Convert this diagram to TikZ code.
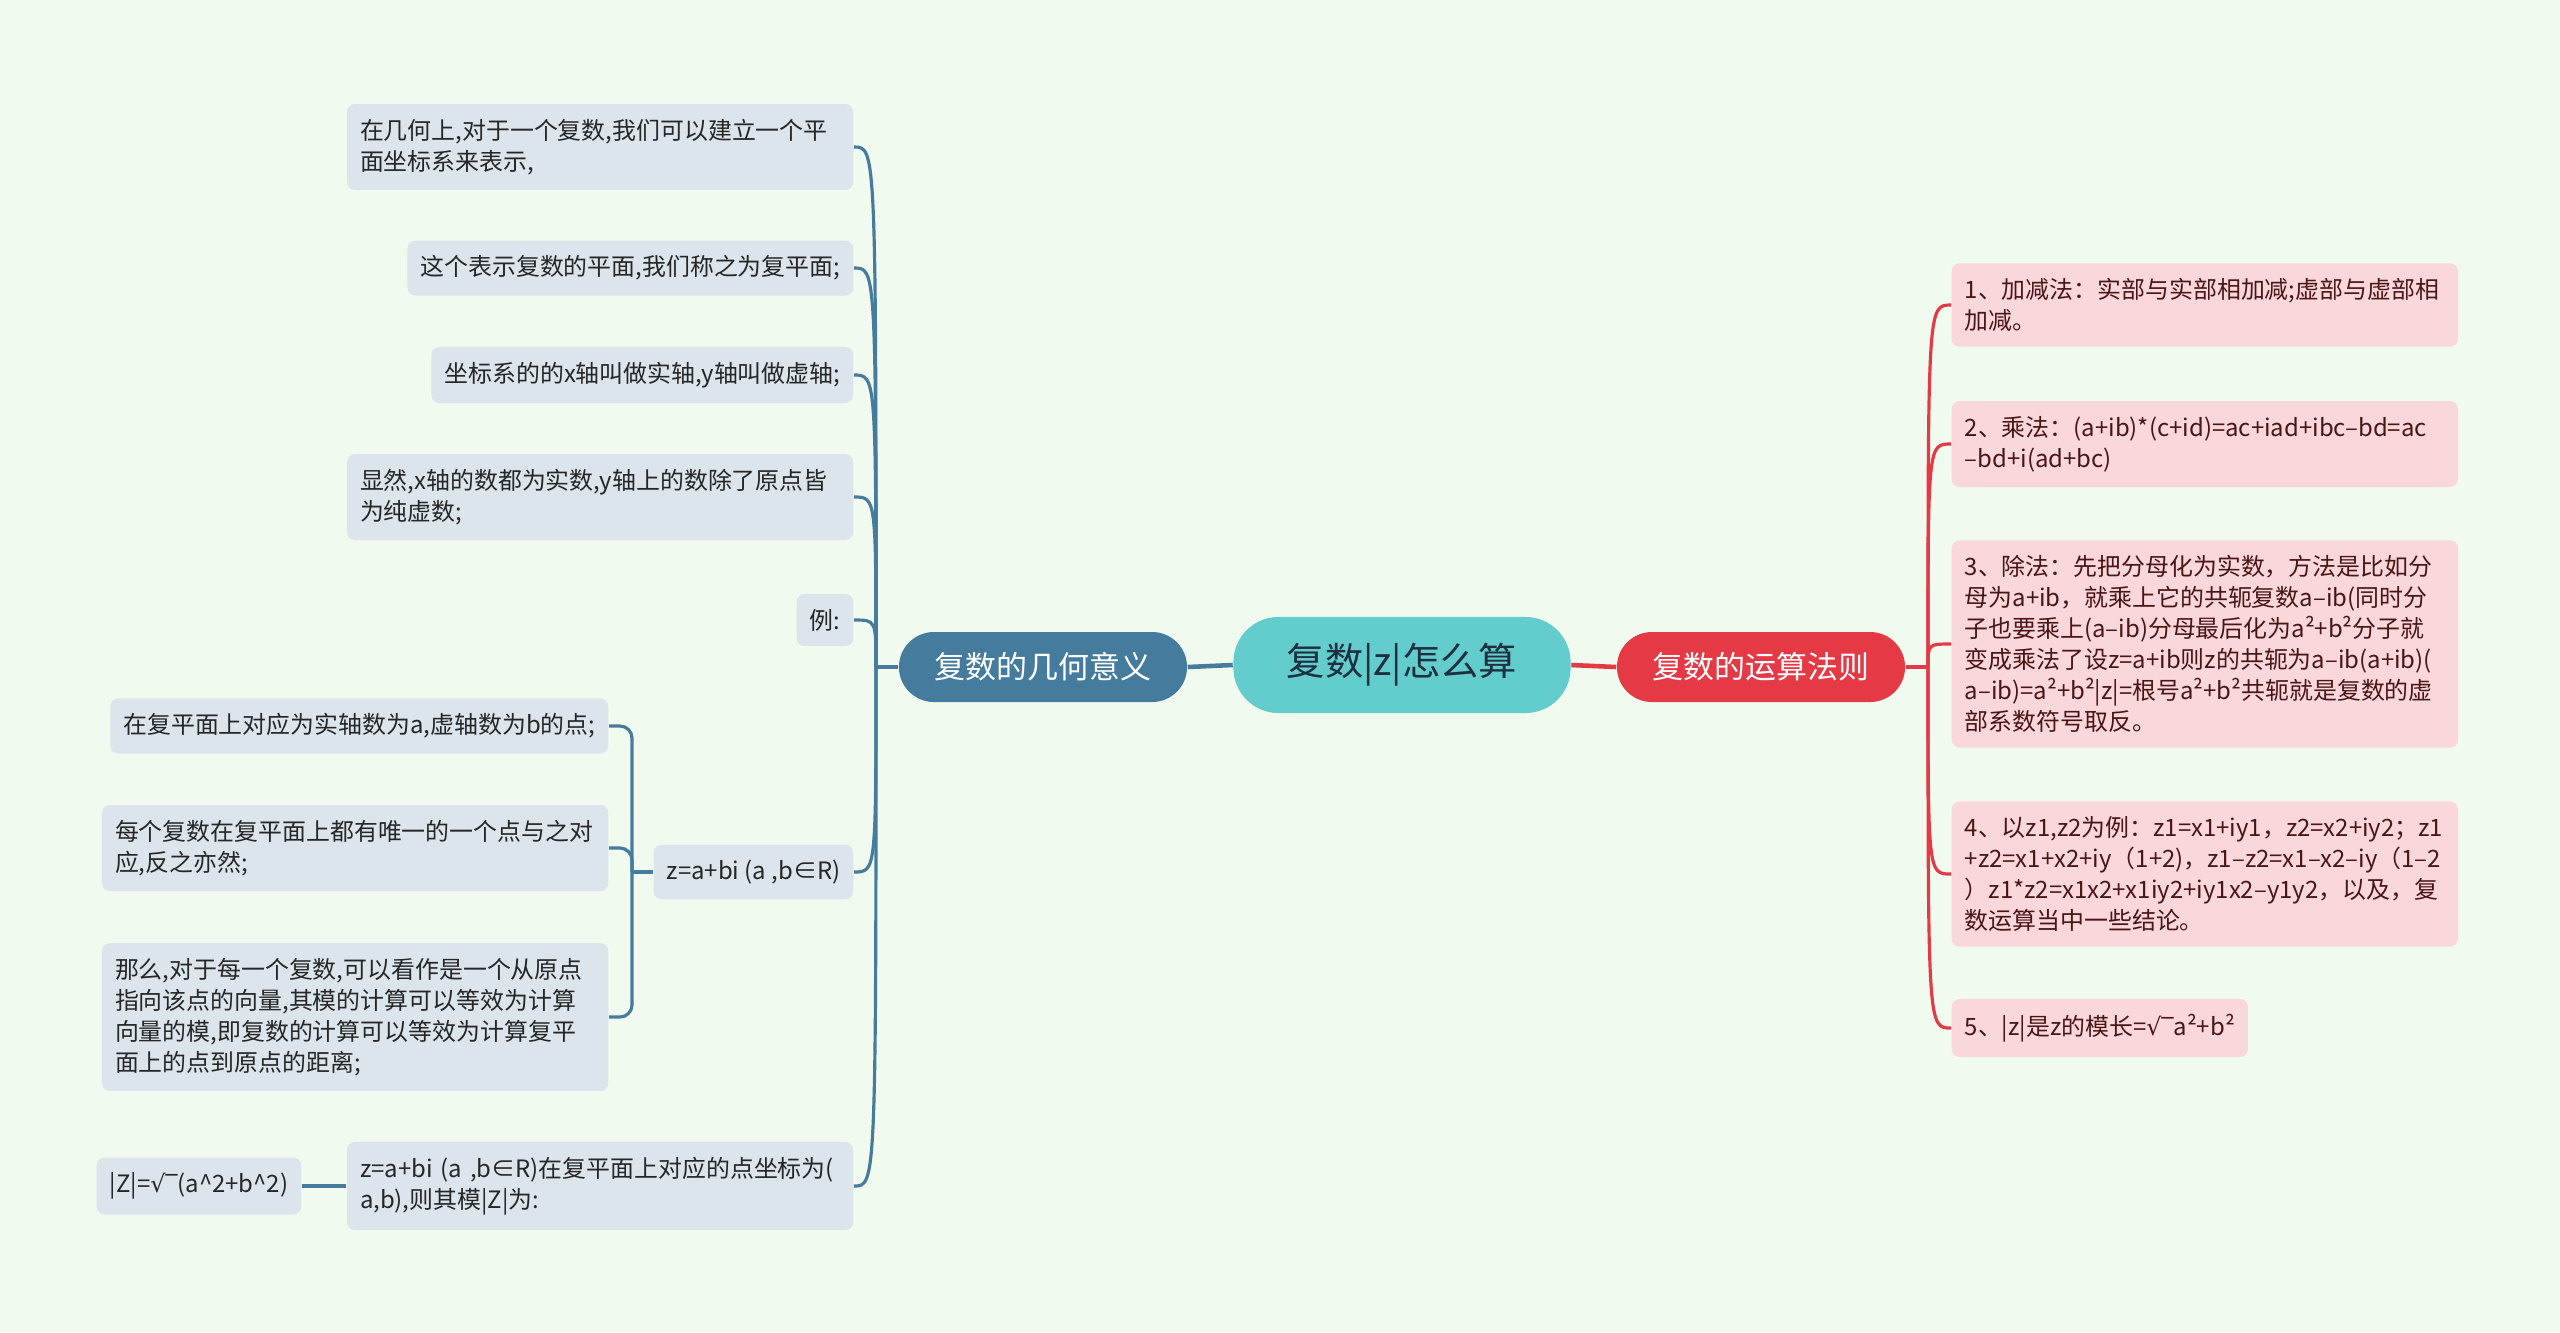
\documentclass[tikz,border=0pt]{standalone}
\usepackage{fontspec}
\setmainfont{Noto Sans CJK SC}
\newfontfamily\symfont{DejaVu Sans}
\usepackage{xcolor}
\usepackage{tikz}
\usetikzlibrary{positioning}
\definecolor{bgcol}{HTML}{F1FAEE}
\definecolor{geoblue}{HTML}{457B9D}
\definecolor{opsred}{HTML}{E63946}
\definecolor{rootteal}{HTML}{63CCCC}
\definecolor{geofill}{HTML}{DCE5EC}
\definecolor{opsfill}{HTML}{F9D7DB}
\definecolor{opstext}{HTML}{4A1515}
\definecolor{roottext}{HTML}{1D3040}
\newcommand{\sqbar}{{\symfont √‾}}

\begin{document}
\begin{tikzpicture}[x=0.01cm, y=-0.01cm,
    leaf/.style={rounded corners=0.08cm, inner xsep=3.7pt, inner ysep=4.3pt, align=left,
      font=\fontsize{6.8pt}{8.8pt}\selectfont},
    wide/.style={text width=4.8cm},
    geoleaf/.style={leaf, fill=geofill, text=black!85, anchor=east},
    opsleaf/.style={leaf, fill=opsfill, text=opstext, anchor=west},
    topic/.style={rounded corners=0.35cm, minimum width=2.88cm, minimum height=0.70cm,
      text=white, font=\fontsize{8.8pt}{10pt}\selectfont},
    geoline/.style={draw=geoblue, line width=0.9pt},
    opsline/.style={draw=opsred, line width=0.9pt}]
  \useasboundingbox (0,0) rectangle (2560,1332);
  \fill[bgcol] (0,0) rectangle (2560,1332);

  \node[fill=rootteal, text=roottext, rounded corners=0.45cm, minimum width=3.37cm, minimum height=0.96cm,
    font=\fontsize{10.9pt}{12pt}\selectfont] (root) at (1402,665) {复数|z|怎么算};
  \node[topic, fill=geoblue] (geo) at (1043,667) {复数的几何意义};
  \node[topic, fill=opsred] (ops) at (1761,667) {复数的运算法则};
  \draw[geoline, line width=1.3pt] (root.west) -- (geo.east);
  \draw[opsline, line width=1.3pt] (root.east) -- (ops.west);

  % left branch
  \coordinate (lsp) at (876,667);
  \draw[geoline, line width=1.3pt] (geo.west) -- (lsp);
  \node[geoleaf, wide] (g1) at (854,147) {在几何上,对于一个复数,我们可以建立一个平\\面坐标系来表示,};
  \node[geoleaf] (g2) at (854,268) {这个表示复数的平面,我们称之为复平面;};
  \node[geoleaf] (g3) at (854,375) {坐标系的的x轴叫做实轴,y轴叫做虚轴;};
  \node[geoleaf, wide] (g4) at (854,497) {显然,x轴的数都为实数,y轴上的数除了原点皆\\为纯虚数;};
  \node[geoleaf] (g5) at (854,620) {例:};
  \node[geoleaf] (g6) at (854,872) {z=a+bi (a ,b∈R)};
  \node[geoleaf, wide] (g7) at (854,1186) {z=a+bi (a ,b∈R)在复平面上对应的点坐标为(\\a,b),则其模|Z|为:};
  \foreach \n in {g1,g2,g3,g4,g5,g6,g7}
    \draw[geoline] (lsp) .. controls (lsp |- \n.east) .. (\n.east);

  \node[geoleaf] (z1) at (609,726) {在复平面上对应为实轴数为a,虚轴数为b的点;};
  \node[geoleaf, wide] (z2) at (609,848) {每个复数在复平面上都有唯一的一个点与之对\\应,反之亦然;};
  \node[geoleaf, wide] (z3) at (609,1017) {那么,对于每一个复数,可以看作是一个从原点\\指向该点的向量,其模的计算可以等效为计算\\向量的模,即复数的计算可以等效为计算复平\\面上的点到原点的距离;};
  \coordinate (zsp) at (632,872);
  \draw[geoline] (g6.west) -- (zsp);
  \foreach \n in {z1,z2,z3}
    \draw[geoline, rounded corners=0.12cm] (zsp) |- (\n.east);

  \node[geoleaf] (mod) at (302,1186) {|Z|=\sqbar(a\textasciicircum2+b\textasciicircum2)};
  \draw[geoline, line width=1.3pt] (g7.west) -- (mod.east);

  % right branch
  \coordinate (rsp) at (1928,667);
  \draw[opsline, line width=1.3pt] (ops.east) -- (rsp);
  \node[opsleaf, wide] (o1) at (1951,305) {1、加减法：实部与实部相加减;虚部与虚部相\\加减。};
  \node[opsleaf, wide] (o2) at (1951,444) {2、乘法：(a+ib)*(c+id)=ac+iad+ibc–bd=ac\\–bd+i(ad+bc)};
  \node[opsleaf, wide] (o3) at (1951,644) {3、除法：先把分母化为实数，方法是比如分\\母为a+ib，就乘上它的共轭复数a–ib(同时分\\子也要乘上(a–ib)分母最后化为a²+b²分子就\\变成乘法了设z=a+ib则z的共轭为a–ib(a+ib)(\\a–ib)=a²+b²|z|=根号a²+b²共轭就是复数的虚\\部系数符号取反。};
  \node[opsleaf, wide] (o4) at (1951,874) {4、以z1,z2为例：z1=x1+iy1，z2=x2+iy2；z1\\+z2=x1+x2+iy（1+2)，z1–z2=x1–x2–iy（1–2\\）z1*z2=x1x2+x1iy2+iy1x2–y1y2，以及，复\\数运算当中一些结论。};
  \node[opsleaf] (o5) at (1951,1028) {5、|z|是z的模长=\sqbar a²+b²};
  \foreach \n in {o1,o2,o3,o4,o5}
    \draw[opsline] (rsp) .. controls (rsp |- \n.west) .. (\n.west);
\end{tikzpicture}
\end{document}
